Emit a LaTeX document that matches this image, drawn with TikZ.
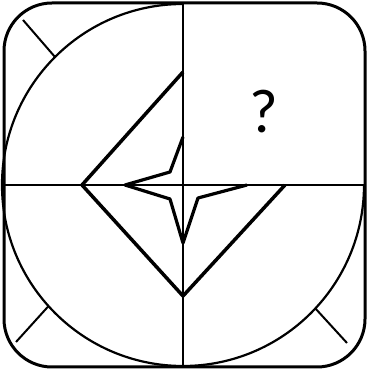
\documentclass[tikz,border=0pt]{standalone}
\usepackage{fontspec}
\usetikzlibrary{calc}
\newfontfamily\qfont{Carlito}
\begin{document}
\begin{tikzpicture}[x=1pt,y=1pt,
  frame/.style={line width=3pt,rounded corners=48pt},
  circ/.style={line width=2.2pt},
  axis/.style={line width=2pt},
  thick shape/.style={line width=3.5pt,line join=round},
  tick/.style={line width=2pt}]
\useasboundingbox (0,0) rectangle (368,375);
\coordinate (c) at (183,190);
\draw[frame] (4,8) rectangle (365,372);
\draw[axis] (183,372) -- (183,8);
\draw[axis] (4,190) -- (365,190);
\draw[circ] (c) ++(90:181) arc[start angle=90,end angle=360,radius=181];
% ticks
\coordinate (t1) at ($(c)+(135:181)$);
\coordinate (t2) at ($(c)+(222:181)$);
\coordinate (t3) at ($(c)+(317:181)$);
\draw[tick] (t1) -- (23,355);
\draw[tick] (t2) -- (16,33);
\draw[tick] (t3) -- (347,32);
% kite
\coordinate (kt) at (183,303);
\coordinate (kl) at (82,190);
\coordinate (kb) at (183,79);
\coordinate (kr) at (285,190);
\draw[thick shape] (kt) -- (kl) -- (kb) -- (kr);
% star
\coordinate (st) at (183,238);
\coordinate (sl) at (125,190);
\coordinate (sb) at (183,132);
\coordinate (sr) at (247,190);
\draw[thick shape,line width=3.2pt] (st) -- (170,203) -- (sl) -- (170,176) -- (sb) -- (198,177) -- (sr);
\node[font=\qfont\fontsize{62}{70}\selectfont,inner sep=0pt] (q) at (264,263) {?};
\end{tikzpicture}
\end{document}
